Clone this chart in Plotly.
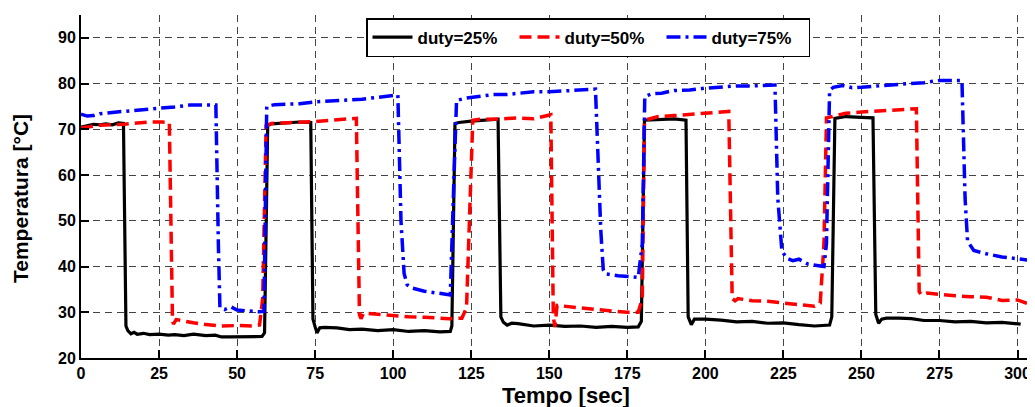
import plotly.graph_objects as go

# duty = 25 %
t25 = [0, 2, 4, 6, 8, 10, 12, 13.6, 14.4, 15, 16, 17, 18, 20, 22, 25, 28, 30, 33, 36, 40, 43, 45, 48, 52, 55, 58,
       58.8, 59.8, 61, 65, 70, 73.6, 74.3, 75, 75.6, 76.5, 78, 82, 86, 90, 95, 100, 105, 110, 115, 118.3,
       118.8, 119.8, 121, 125, 130, 133.6, 134.5, 135.3, 136.5, 138, 140, 145, 150, 155, 160, 165, 170, 175, 178.5,
       179.5, 180.5, 185, 190, 193.8, 194.5, 195.5, 196.5, 200, 205, 210, 215, 220, 225, 230, 235, 239.8,
       240.5, 241.5, 245, 250, 253.7, 254.6, 255.5, 256.5, 258, 262, 266, 270, 275, 280, 285, 290, 295, 301]
v25 = [70.5, 70.8, 71.1, 71.0, 71.2, 71.0, 71.4, 71.3, 27.0, 26.0, 25.3, 25.6, 25.2, 25.4, 25.1, 25.2, 25.0, 25.1,
       24.9, 25.2, 24.9, 25.0, 24.6, 24.6, 24.6, 24.6, 24.7,
       25.5, 70.8, 71.2, 71.3, 71.6, 71.5, 28.5, 26.8, 25.5, 26.6, 26.7, 26.6, 26.2, 26.3, 26.0, 26.2, 25.8, 26.0,
       25.7, 25.8,
       27.0, 71.3, 71.5, 71.8, 72.1, 72.2, 29.0, 27.8, 27.2, 27.6, 27.5, 27.0, 27.2, 26.9, 27.0, 26.7, 26.9, 26.7,
       26.8,
       28.0, 72.0, 72.2, 72.3, 72.0, 29.0, 27.3, 28.5, 28.5, 28.3, 27.9, 28.0, 27.6, 27.7, 27.3, 27.0, 27.2,
       29.0, 72.4, 72.8, 72.6, 72.5, 29.5, 27.6, 28.5, 28.7, 28.7, 28.6, 28.2, 28.2, 27.9, 28.0, 27.7, 27.8, 27.4]

# duty = 50 %
t50 = [0, 3, 6, 10, 14, 18, 22, 26, 28.3, 29.3, 29.6, 30.5, 33, 36, 40, 45, 50, 55, 57.2, 58.2, 59.3, 61, 65, 70,
       75, 80, 85, 88.2, 89.2, 89.7, 90.5, 95, 100, 105, 110, 115, 118, 122, 123.5, 125.5, 128, 135, 140, 145,
       150.5, 151.3, 151.8, 152.5, 155, 160, 165, 170, 175, 178.5, 179.8, 180.5, 185, 190, 195, 200, 205, 207.5,
       208.6, 209.5, 210.5, 215, 220, 225, 230, 235, 236.8, 238, 238.8, 242, 245, 250, 255, 260, 265, 267.6,
       268.5, 269.2, 271, 275, 280, 285, 290, 295, 300, 305.5]
v50 = [70.3, 70.6, 70.9, 71.0, 71.1, 71.4, 71.6, 71.6, 71.5, 28.5, 27.4, 28.4, 28.0, 27.7, 27.3, 27.0, 27.1, 27.0,
       27.2, 33.0, 70.8, 71.3, 71.4, 71.5,
       71.7, 72.0, 72.3, 72.4, 29.5, 28.6, 29.8, 29.5, 29.3, 29.0, 28.9, 28.7, 28.6, 28.7, 31.0, 72.0, 72.2, 72.3,
       72.5, 72.3,
       73.2, 29.0, 26.8, 31.5, 31.3, 31.0, 30.6, 30.3, 30.0, 30.0, 33.0, 72.0, 72.8, 73.0, 73.3, 73.6, 73.8, 73.9,
       33.0, 32.5, 33.0, 32.5, 32.4, 32.0, 31.7, 31.3, 32.0, 45.0, 72.5, 73.0, 73.5, 73.8, 74.0, 74.3, 74.4, 74.5,
       34.5, 33.8, 34.2, 33.9, 33.6, 33.4, 33.3, 32.6, 32.7, 31.3]

# duty = 75 %
t75 = [0, 2, 4, 6, 10, 15, 20, 25, 30, 35, 40, 43.2, 44, 44.5, 46, 48, 50, 53, 57, 58.6, 59.5, 62, 65, 70, 75,
       80, 85, 90, 95, 101.5, 102.5, 103.5, 104.5, 106, 110, 115, 118.3, 119.5, 120.3, 123, 127, 132, 136, 140,
       145, 150, 155, 160, 164.8, 166.5, 167.3, 168, 172, 176, 178.5, 179.8, 180.6, 183, 186, 190, 195, 200, 205,
       210, 215, 222.3, 223.2, 224.5, 226, 228, 230, 233, 238, 238.8, 239.8, 241, 244, 247, 250, 255, 260, 265,
       270, 275, 282.2, 283.2, 284, 286, 290, 295, 300, 305.5]
v75 = [73.3, 72.9, 73.0, 73.4, 73.7, 74.0, 74.2, 74.6, 74.9, 75.3, 75.4, 75.3, 45.0, 31.0, 30.6, 31.2, 30.5, 30.3,
       30.1, 30.2, 75.0, 75.4, 75.5, 75.6, 76.0,
       76.2, 76.5, 76.6, 77.0, 77.5, 50.0, 38.5, 36.0, 35.3, 34.6, 34.0, 33.8, 60.0, 76.3, 76.8, 77.2, 77.6, 77.6,
       77.8,
       78.2, 78.2, 78.4, 78.5, 78.8, 48.0, 39.3, 38.4, 38.0, 37.8, 37.6, 45.0, 77.2, 77.8, 77.9, 78.5, 78.6, 79.0,
       79.3,
       79.5, 79.5, 79.7, 55.0, 43.5, 41.8, 41.3, 41.6, 40.5, 40.0, 45.0, 78.5, 79.2, 79.6, 79.1, 79.2, 79.5, 79.8,
       80.0,
       80.2, 80.7, 80.7, 55.0, 45.5, 43.5, 42.8, 42.1, 41.7, 41.2]

x_ticks = [0, 25, 50, 75, 100, 125, 150, 175, 200, 225, 250, 275, 300]
y_ticks = [20, 30, 40, 50, 60, 70, 80, 90]
names = ["duty=25%", "duty=50%", "duty=75%"]
x_title = "Tempo [sec]"
y_title = "Temperatura [°C]"

FONT = "Liberation Sans, Arial, Helvetica, sans-serif"

fig = go.Figure()
fig.add_trace(go.Scatter(x=t25, y=v25, mode="lines", name=names[0],
                         line=dict(color="black", width=3.2)))
fig.add_trace(go.Scatter(x=t50, y=v50, mode="lines", name=names[1],
                         line=dict(color="#ff0000", width=3.5, dash="12px,6px")))
fig.add_trace(go.Scatter(x=t75, y=v75, mode="lines", name=names[2],
                         line=dict(color="#0000ff", width=3.5, dash="14px,5px,3px,5px")))

axis_common = dict(
    showline=True, linecolor="black", linewidth=2,
    ticks="inside", ticklen=8, tickwidth=1.5, tickcolor="black",
    showgrid=True, gridcolor="#444444", gridwidth=1, griddash="7px,5px",
    zeroline=False, mirror=False, ticklabeloverflow="allow",
    tickfont=dict(family=FONT, size=16, color="black", weight="bold"),
)

# the page body has an 8px default margin; size the figure so it fills the window
W, H = 1027, 399
L, T, B, R = 73, 7, 49, 0
plot_w = W - L - R
plot_h = H - T - B

fig.update_layout(
    width=W, height=H,
    margin=dict(l=L, r=R, t=T, b=B, autoexpand=False),
    paper_bgcolor="white", plot_bgcolor="white",
    font=dict(family=FONT, color="black"),
    xaxis=dict(range=[0, 305.6], tickvals=x_ticks, **axis_common),
    yaxis=dict(range=[20, 95], tickvals=y_ticks, **axis_common),
    legend=dict(orientation="h", x=(580 - L) / plot_w, xanchor="center",
                y=(H - B - 10) / plot_h, yanchor="top",
                bgcolor="white", bordercolor="black", borderwidth=1.5,
                font=dict(family=FONT, size=17, color="black", weight="bold"),
                tracegroupgap=0, itemwidth=40, entrywidth=92, entrywidthmode="pixels"),
    showlegend=True,
)

fig.add_annotation(text=x_title, xref="paper", yref="paper",
                   x=(558 - L) / plot_w, y=(H - B - 387) / plot_h, xanchor="center", yanchor="middle",
                   showarrow=False,
                   font=dict(family=FONT, size=22, color="black", weight="bold"))
fig.add_annotation(text=y_title, xref="paper", yref="paper", textangle=-90,
                   x=(12 - L) / plot_w, y=(H - B - 191) / plot_h, xanchor="center", yanchor="middle",
                   showarrow=False,
                   font=dict(family=FONT, size=21, color="black", weight="bold"))

fig.write_html("out.html")
